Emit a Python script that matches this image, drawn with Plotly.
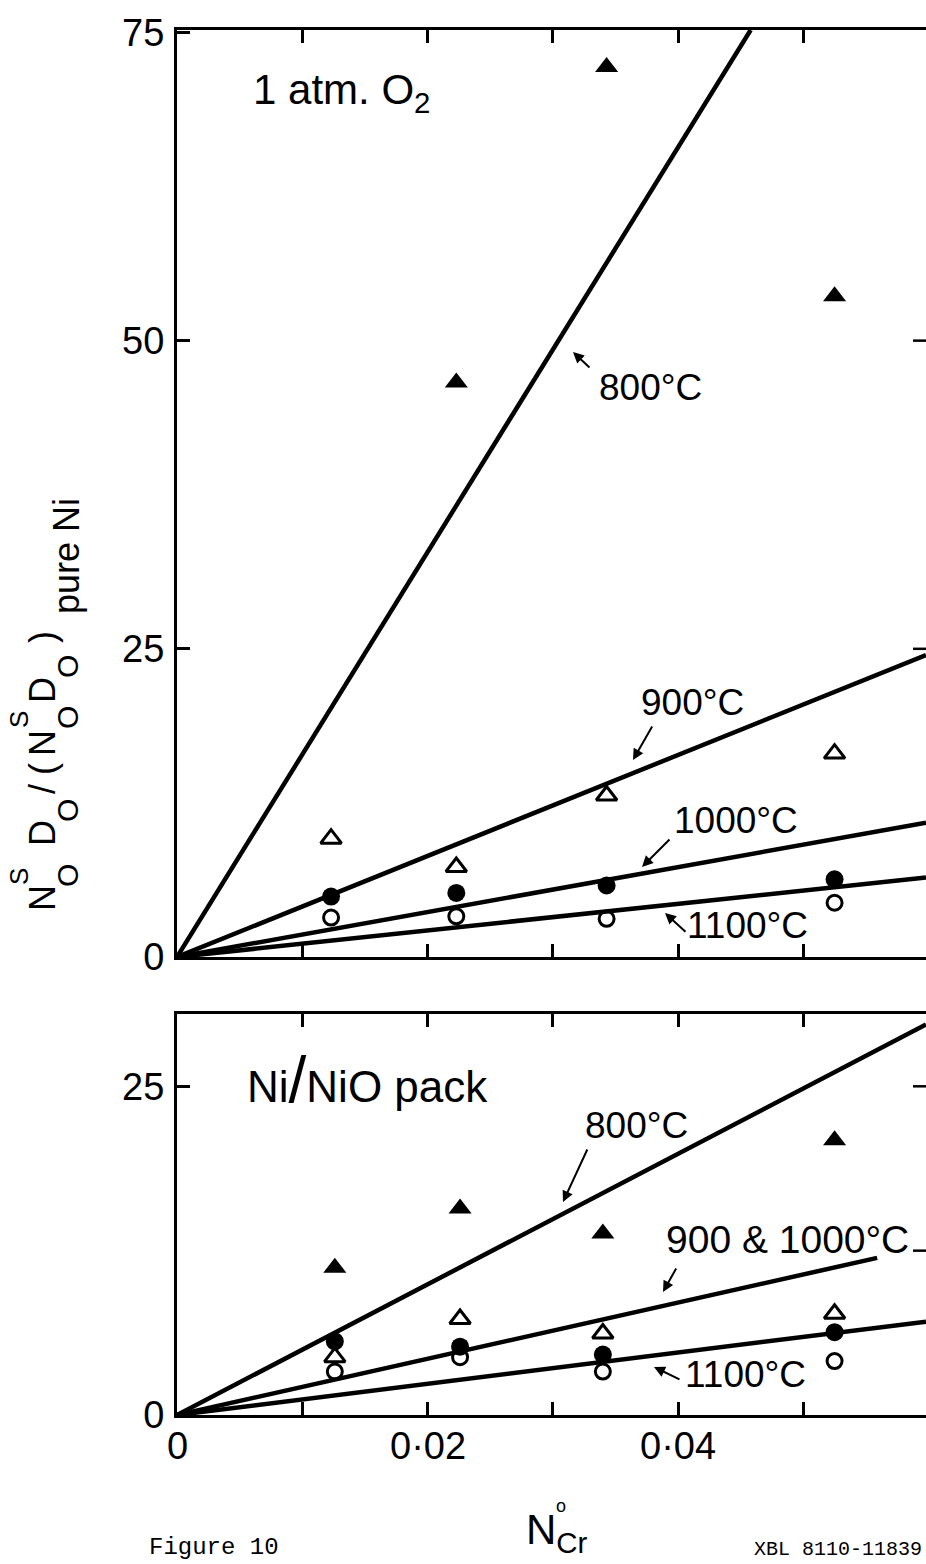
import plotly.graph_objects as go

# ---------------- data ----------------
# 1 atm O2 panel
cr_o2 = [0.0123, 0.0223, 0.0343, 0.0525]
cr_o2_800 = [0.0223, 0.0343, 0.0525]
o2_800 = [46.6, 72.2, 53.6]
o2_900 = [9.6, 7.3, 13.1, 16.5]
o2_1000 = [4.9, 5.2, 5.8, 6.3]
o2_1100 = [3.2, 3.3, 3.1, 4.4]

# Ni/NiO pack panel
cr_pk = [0.0126, 0.0226, 0.0340, 0.0525]
pk_800 = [11.2, 15.7, 13.8, 20.9]
pk_900 = [4.4, 7.3, 6.2, 7.7]
pk_1000 = [5.6, 5.2, 4.6, 6.3]
pk_1100 = [3.3, 4.4, 3.3, 4.1]

# straight fitted lines through the origin (x endpoints, y endpoints)
fit_o2_800_x, fit_o2_800_y = [0, 0.0458], [0, 75.2]
fit_o2_900_x, fit_o2_900_y = [0, 0.0598], [0, 24.5]
fit_o2_1000_x, fit_o2_1000_y = [0, 0.0598], [0, 10.9]
fit_o2_1100_x, fit_o2_1100_y = [0, 0.0598], [0, 6.45]
fit_pk_800_x, fit_pk_800_y = [0, 0.0598], [0, 29.7]
fit_pk_9001000_x, fit_pk_9001000_y = [0, 0.0559], [0, 11.95]
fit_pk_1100_x, fit_pk_1100_y = [0, 0.0598], [0, 7.1]

x_tickvals = [0, 0.02, 0.04]
x_ticktext = ["0", "0·02", "0·04"]
x_minor_tickvals = [0.01, 0.03, 0.05]
y_top_tickvals = [0, 25, 50, 75]
y_top_ticktext = ["0", "25", "50", "75"]
y_bot_tickvals = [0, 25]
y_bot_ticktext = ["0", "25"]

# ---------------- layout geometry ----------------
W, H = 926, 1564
L, R, T, B = 177, 0, 30, 149
PW, PH = W - L - R, H - T - B
Y0 = H - B  # pixel row of paper y=0
X_MAX = 0.0598
TOP_MAX, BOT_MAX = 75.2, 30.5
top_bottom_px, bot_top_px = 957, 1014
top_dom = [(Y0 - top_bottom_px) / PH, 1.0]
bot_dom = [0.0, (Y0 - bot_top_px) / PH]

FONT = "Liberation Sans, Arial, sans-serif"
MONO = "Liberation Mono, DejaVu Sans Mono, monospace"


def px_x(px):
    return (px - L) / PW * X_MAX


def top_y(py):
    return (top_bottom_px - py) / (top_bottom_px - T) * TOP_MAX


def bot_y(py):
    return (Y0 - py) / (Y0 - bot_top_px) * BOT_MAX


def paper_x(px):
    return (px - L) / PW


def paper_y(py):
    return (Y0 - py) / PH


fig = go.Figure()

line_style = dict(color="black", width=4.5)


def add_line(x, y, xa, ya):
    fig.add_trace(go.Scatter(x=x, y=y, mode="lines", line=line_style,
                             xaxis=xa, yaxis=ya, showlegend=False, hoverinfo="skip"))


add_line(fit_o2_800_x, fit_o2_800_y, "x", "y")
add_line(fit_o2_900_x, fit_o2_900_y, "x", "y")
add_line(fit_o2_1000_x, fit_o2_1000_y, "x", "y")
add_line(fit_o2_1100_x, fit_o2_1100_y, "x", "y")
add_line(fit_pk_800_x, fit_pk_800_y, "x2", "y2")
add_line(fit_pk_9001000_x, fit_pk_9001000_y, "x2", "y2")
add_line(fit_pk_1100_x, fit_pk_1100_y, "x2", "y2")

m_ftri = dict(symbol="triangle-up", size=20, color="black")
m_otri = dict(symbol="triangle-up-open", size=18, color="black", line=dict(width=3, color="black"))
m_fcir = dict(symbol="circle", size=18, color="black")
m_ocir = dict(symbol="circle-open", size=15, color="black", line=dict(width=3, color="black"))


def add_pts(x, y, m, xa, ya):
    fig.add_trace(go.Scatter(x=x, y=y, mode="markers", marker=m, xaxis=xa, yaxis=ya,
                             showlegend=False, cliponaxis=False))


add_pts(cr_o2_800, o2_800, m_ftri, "x", "y")
add_pts(cr_o2, o2_900, m_otri, "x", "y")
add_pts(cr_o2, o2_1000, m_fcir, "x", "y")
add_pts(cr_o2, o2_1100, m_ocir, "x", "y")
add_pts(cr_pk, pk_800, m_ftri, "x2", "y2")
add_pts(cr_pk, pk_900, m_otri, "x2", "y2")
add_pts(cr_pk, pk_1000, m_fcir, "x2", "y2")
add_pts(cr_pk, pk_1100, m_ocir, "x2", "y2")

tickfont = dict(family=FONT, size=38, color="black")
ax_common = dict(showline=True, linecolor="black", linewidth=3, ticks="inside",
                 ticklen=13, tickwidth=2.5, tickcolor="black", showgrid=False,
                 zeroline=False, tickfont=tickfont, fixedrange=True)
x_minor = dict(tickvals=x_minor_tickvals, ticks="inside", ticklen=13, tickwidth=2.5,
               tickcolor="black", showgrid=False)

fig.update_layout(
    width=W, height=H, margin=dict(l=L, r=R, t=T, b=B),
    paper_bgcolor="white", plot_bgcolor="white", showlegend=False,
    xaxis=dict(ax_common, range=[0, X_MAX], tickvals=x_tickvals, ticktext=x_ticktext,
               minor=x_minor, showticklabels=False, mirror="ticks", anchor="y"),
    xaxis2=dict(ax_common, range=[0, X_MAX], tickvals=x_tickvals, ticktext=x_ticktext,
                minor=x_minor, showticklabels=False, mirror="ticks", anchor="y2"),
    yaxis=dict(ax_common, domain=top_dom, range=[0, TOP_MAX], tickvals=y_top_tickvals,
               ticktext=y_top_ticktext, anchor="x", ticklabelstandoff=2),
    yaxis2=dict(ax_common, domain=bot_dom, range=[0, BOT_MAX], tickvals=y_bot_tickvals,
                ticktext=y_bot_ticktext, anchor="x2", ticklabelstandoff=2),
)

# x tick labels sit closer to the axis than Plotly allows, so place them as annotations
for tv, tt in zip(x_tickvals, x_ticktext):
    fig.add_annotation(text=tt, x=tv, y=paper_y(1446), xref="x2", yref="paper",
                       showarrow=False, xanchor="center", yanchor="middle",
                       font=tickfont)

# right-hand inward ticks (right axis itself lies just outside the picture)
for yv in [25, 50]:
    fig.add_shape(type="line", xref="x domain", yref="y", x0=1 - 13 / PW, x1=1,
                  y0=yv, y1=yv, line=dict(color="black", width=2.5))
for yv in [12.5, 25]:
    fig.add_shape(type="line", xref="x2 domain", yref="y2", x0=1 - 13 / PW, x1=1,
                  y0=yv, y1=yv, line=dict(color="black", width=2.5))


def label(text, px, py, panel, size=37, xanchor="center"):
    yv = top_y(py) if panel == 1 else bot_y(py)
    fig.add_annotation(text=text, x=px_x(px), y=yv, xref="x" if panel == 1 else "x2",
                       yref="y" if panel == 1 else "y2", showarrow=False,
                       font=dict(family=FONT, size=size, color="black"),
                       xanchor=xanchor, yanchor="middle")


def arrow(tip, tail, panel):
    yv = top_y(tip[1]) if panel == 1 else bot_y(tip[1])
    fig.add_annotation(text="", x=px_x(tip[0]), y=yv, xref="x" if panel == 1 else "x2",
                       yref="y" if panel == 1 else "y2", showarrow=True,
                       ax=tail[0] - tip[0], ay=tail[1] - tip[1], arrowhead=2,
                       arrowsize=1.1, arrowwidth=2, arrowcolor="black", standoff=0)


label("1 atm. O<sub>2</sub>", 251, 92, 1, size=42, xanchor="left")
label("800°C", 650, 387, 1)
label("900°C", 692, 702, 1)
label("1000°C", 736, 820, 1)
label("1100°C", 747, 925, 1)
arrow((573, 352), (591, 369), 1)
arrow((633, 760), (653, 725), 1)
arrow((642, 867), (671, 838), 1)
arrow((665, 913), (687, 933), 1)

label('Ni<span style="font-size:64px">/</span>NiO pack', 245, 1080, 2, size=44,
      xanchor="left")
label("800°C", 636, 1125, 2)
label("900 &amp; 1000°C", 787, 1239, 2, size=39)
label("1100°C", 745, 1374, 2)
arrow((563, 1202), (588, 1148), 2)
arrow((663, 1292), (677, 1267), 2)
arrow((654, 1367), (681, 1380), 2)

# y-axis title built from pieces so that super/subscripts stack as in the original
ytitle_pieces = [
    ("N", 42, 898, 36), ("S", 19, 877, 26), ("O", 67, 875, 30),
    ("D", 42, 833, 36), ("O", 67, 810, 30),
    ("/", 42, 789, 36), ("(", 42, 769, 36),
    ("N", 42, 743, 36), ("S", 19, 720, 26), ("O", 67, 717, 30),
    ("D", 42, 690, 36), ("O", 67, 666, 30),
    (")", 42, 637, 36), ("pure Ni", 67, 556, 36),
]
for txt, px, py, sz in ytitle_pieces:
    fig.add_annotation(text=txt, x=paper_x(px), y=paper_y(py), xref="paper", yref="paper",
                       textangle=-90, showarrow=False, xanchor="center", yanchor="middle",
                       font=dict(family=FONT, size=sz, color="black"))

# x-axis title
fig.add_annotation(text="N<sub>Cr</sub>", x=paper_x(524), y=paper_y(1532), xref="paper",
                   yref="paper", showarrow=False, xanchor="left", yanchor="middle",
                   font=dict(family=FONT, size=42, color="black"))
fig.add_annotation(text="o", x=paper_x(561), y=paper_y(1506), xref="paper", yref="paper",
                   showarrow=False, xanchor="center", yanchor="middle",
                   font=dict(family=FONT, size=18, color="black"))

# footer
fig.add_annotation(text="Figure 10", x=paper_x(147), y=paper_y(1563), xref="paper",
                   yref="paper", showarrow=False, xanchor="left", yanchor="bottom",
                   font=dict(family=MONO, size=24, color="black"))
fig.add_annotation(text="XBL 8110-11839", x=paper_x(752), y=paper_y(1563), xref="paper",
                   yref="paper", showarrow=False, xanchor="left", yanchor="bottom",
                   font=dict(family=MONO, size=20, color="black"))

fig.write_html("out.html")
